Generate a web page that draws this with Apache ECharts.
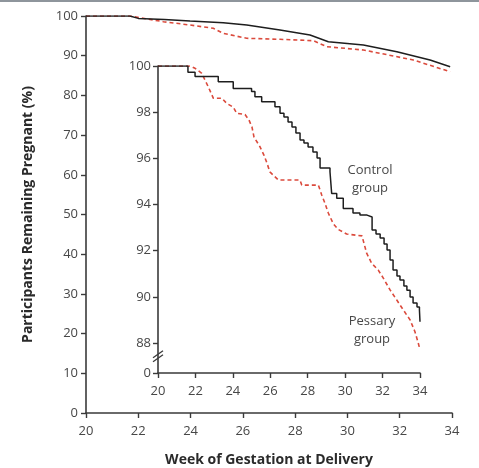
<!DOCTYPE html>
<html>
<head>
<meta charset="utf-8">
<script src="https://cdn.jsdelivr.net/npm/echarts@6/dist/echarts.min.js"></script>
<style>
html,body{margin:0;padding:0;background:#fff;}
#c{width:479px;height:468px;}
</style>
</head>
<body>
<div id="c"></div>
<script>
// ---- data ----
var xTicks = [20, 22, 24, 26, 28, 30, 32, 34];
var mainYTicks = [0, 10, 20, 30, 40, 50, 60, 70, 80, 90, 100];
var insetYTicks = [86.7, 88, 90, 92, 94, 96, 98, 100];

var mainControlWeeks = [20, 21.68, 22.0, 23.0, 23.98, 25.25, 26.15, 27.42, 28.57, 29.27, 30.61, 31.89, 33.16, 33.93];
var mainControlVals  = [100, 100, 99.4, 99.1, 98.74, 98.31, 97.73, 96.47, 95.21, 93.53, 92.70, 91.01, 88.92, 87.23];

var mainPessaryWeeks = [20, 21.68, 22.96, 23.98, 24.87, 25.25, 26.15, 27.42, 28.70, 29.21, 30.61, 31.25, 32.52, 33.93];
var mainPessaryVals  = [100, 100, 98.56, 97.73, 96.90, 95.64, 94.38, 94.13, 93.78, 92.27, 91.44, 90.60, 88.92, 85.97];

var insetControlWeeks = [20, 21.6, 21.98, 23.22, 24.02, 25.0, 25.18, 25.54, 26.25, 26.52, 26.73, 26.95, 27.16, 27.37, 27.59, 27.8, 28.02, 28.28, 28.5, 28.66, 29.19, 29.28, 29.55, 29.9, 30.42, 30.79, 31.17, 31.44, 31.65, 31.87, 32.08, 32.24, 32.4, 32.56, 32.77, 32.93, 33.14, 33.3, 33.47, 33.63, 33.84, 33.97, 34.0];
var insetControlVals  = [100, 99.73, 99.54, 99.32, 99.03, 98.89, 98.67, 98.45, 98.24, 97.95, 97.79, 97.57, 97.36, 97.10, 96.79, 96.66, 96.49, 96.27, 96.01, 95.58, 95.42, 94.48, 94.27, 93.83, 93.63, 93.54, 93.46, 92.89, 92.72, 92.55, 92.29, 92.03, 91.6, 91.16, 90.9, 90.73, 90.47, 90.29, 89.99, 89.73, 89.56, 89.43, 88.92];

var insetPessaryWeeks = [20, 21.71, 21.98, 22.34, 22.51, 22.69, 22.96, 23.42, 23.67, 24.02, 24.21, 24.65, 24.86, 25.02, 25.13, 25.45, 25.66, 25.82, 25.98, 26.43, 27.59, 27.68, 28.57, 28.75, 28.92, 29.10, 29.37, 29.63, 30.08, 30.90, 31.15, 31.42, 31.77, 32.04, 32.40, 32.76, 33.11, 33.47, 33.73, 33.91, 34.0];
var insetPessaryVals  = [100, 100, 99.90, 99.68, 99.39, 99.09, 98.60, 98.60, 98.38, 98.22, 97.95, 97.90, 97.66, 97.36, 96.92, 96.50, 96.14, 95.80, 95.41, 95.06, 95.06, 94.84, 94.84, 94.41, 94.06, 93.63, 93.16, 92.92, 92.72, 92.64, 91.89, 91.45, 91.16, 90.81, 90.30, 89.86, 89.43, 89.00, 88.49, 87.99, 87.70];

function zip(a, b) { return a.map(function (v, i) { return [v, b[i]]; }); }

var FONT = 'Open Sans';
var TXT = '#474747';
var AX = '#3a3a3a';
var RED = '#db4a3c';

var chart = echarts.init(document.getElementById('c'), null, {renderer: 'canvas'});

function lbl(extra) {
  return Object.assign({color: TXT, fontFamily: FONT, fontSize: 13}, extra);
}
var axLine = {show: true, onZero: false, lineStyle: {color: AX, width: 1.6}};
function tick(vals) { return {show: true, length: 5, customValues: vals, lineStyle: {color: AX, width: 1.4}}; }
var titleStyle = {color: '#2a2a2a', fontFamily: FONT, fontSize: 14, fontWeight: 'bold'};

var option = {
  animation: false,
  backgroundColor: '#fff',
  grid: [
    {left: 86, right: 27, top: 16, bottom: 55, containLabel: false, outerBoundsMode: 'none'},
    {left: 158, right: 59, top: 66, bottom: 95, containLabel: false, outerBoundsMode: 'none'}
  ],
  xAxis: [
    {
      type: 'value', gridIndex: 0, min: 20, max: 34, interval: 2,
      name: 'Week of Gestation at Delivery', nameLocation: 'middle', nameGap: 40,
      nameTextStyle: titleStyle,
      axisLine: axLine, splitLine: {show: false},
      axisLabel: lbl({margin: 12, customValues: xTicks}),
      axisTick: tick(xTicks)
    },
    {
      type: 'value', gridIndex: 1, min: 20, max: 34, interval: 2,
      axisLine: axLine, splitLine: {show: false},
      axisLabel: lbl({margin: 12, customValues: xTicks}),
      axisTick: tick(xTicks)
    }
  ],
  yAxis: [
    {
      type: 'value', gridIndex: 0, min: 0, max: 100, interval: 10,
      name: 'Participants Remaining Pregnant (%)', nameLocation: 'middle', nameGap: 51,
      nameTextStyle: titleStyle,
      axisLine: axLine, splitLine: {show: false},
      axisLabel: lbl({margin: 8, customValues: mainYTicks}),
      axisTick: tick(mainYTicks)
    },
    {
      type: 'value', gridIndex: 1, min: 86.7, max: 100,
      axisLine: axLine, splitLine: {show: false},
      axisLabel: lbl({margin: 7, customValues: insetYTicks,
        formatter: function (v) { return v < 87 ? '0' : String(Math.round(v)); }}),
      axisTick: tick(insetYTicks)
    }
  ],
  series: [
    {type: 'line', xAxisIndex: 0, yAxisIndex: 0, data: zip(mainPessaryWeeks, mainPessaryVals),
     symbol: 'none', lineStyle: {color: RED, width: 1.6, type: [4, 3]}},
    {type: 'line', xAxisIndex: 0, yAxisIndex: 0, data: zip(mainControlWeeks, mainControlVals),
     symbol: 'none', lineStyle: {color: '#1e1e1e', width: 1.5}},
    {type: 'line', xAxisIndex: 1, yAxisIndex: 1, data: zip(insetPessaryWeeks, insetPessaryVals),
     symbol: 'none', lineStyle: {color: RED, width: 1.6, type: [4, 3]}},
    {type: 'line', xAxisIndex: 1, yAxisIndex: 1, data: zip(insetControlWeeks, insetControlVals),
     step: 'end', symbol: 'none', lineStyle: {color: '#1e1e1e', width: 1.5}}
  ]
};
chart.setOption(option);

// decorations: top rule, break marks, group labels
var b1 = chart.convertToPixel({xAxisIndex: 1, yAxisIndex: 1}, [20, 87.4]);
function t(text, x, y) {
  return {type: 'text', x: x, y: y, style: {text: text, fill: TXT, font: '13px "Open Sans"', textAlign: 'center', textVerticalAlign: 'middle'}};
}
chart.setOption({
  graphic: [
    {type: 'rect', shape: {x: 0, y: 0, width: 479, height: 2}, style: {fill: '#8e959c'}},
    {type: 'rect', shape: {x: b1[0] - 5, y: b1[1] - 4, width: 10, height: 8}, style: {fill: '#fff'}},
    {type: 'line', shape: {x1: b1[0] - 5, y1: b1[1] + 1, x2: b1[0] + 5, y2: b1[1] - 6}, style: {stroke: AX, lineWidth: 1.3}},
    {type: 'line', shape: {x1: b1[0] - 5, y1: b1[1] + 5, x2: b1[0] + 5, y2: b1[1] - 2}, style: {stroke: AX, lineWidth: 1.3}},
    t('Control', 370, 170), t('group', 370, 188),
    t('Pessary', 372, 321), t('group', 372, 339)
  ]
});
</script>
</body>
</html>
